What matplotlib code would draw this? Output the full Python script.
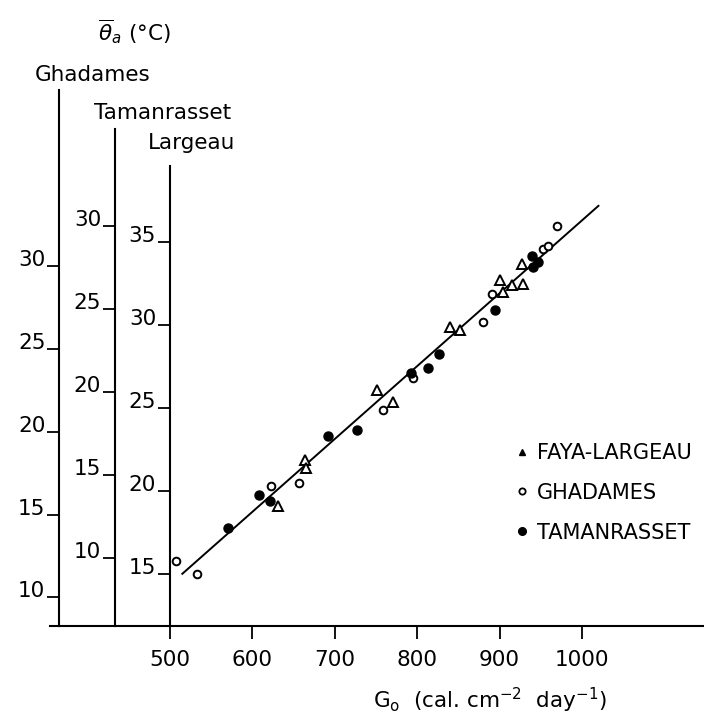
import numpy as np
import matplotlib.pyplot as plt
from matplotlib.lines import Line2D

# Faya-Largeau, temperatures on the Largeau scale (deg C)
faya_g = [631, 664, 665, 751, 771, 840, 852, 900, 904, 915, 928, 927]
faya_t = [19.1, 21.9, 21.4, 26.1, 25.4, 29.9, 29.7, 32.7, 32.0, 32.4, 32.5, 33.7]

# Ghadames, own scale
ghad_g = [507, 533, 623, 656, 759, 795, 880, 891, 953, 959, 970]
ghad_t = [12.2, 11.4, 16.7, 16.9, 21.3, 23.2, 26.6, 28.3, 31.0, 31.2, 32.4]

# Tamanrasset, own scale
tam_g = [570, 608, 621, 692, 727, 792, 813, 826, 895, 939, 947, 941]
tam_t = [11.8, 13.8, 13.4, 17.3, 17.7, 21.1, 21.4, 22.3, 24.9, 28.2, 27.8, 27.5]

# regression line (Largeau scale)
fit_g = [515, 1020]
fit_slope, fit_icpt = 0.0439, -7.58

# offsets of the station scales relative to the Largeau scale
ghad_shift = 3.6
tam_shift = 6.0

x_ticks = [500, 600, 700, 800, 900, 1000]
larg_ticks = [15, 20, 25, 30, 35]
ghad_ticks = [10, 15, 20, 25, 30]
tam_ticks = [10, 15, 20, 25, 30]

W, H = 704, 717
FS = 15.5

fig = plt.figure(figsize=(W / 100, H / 100), dpi=100)
rect = [50 / W, 1 - 625.7 / H, 654 / W, 585.7 / H]
xlim = (354.4, 1148.1)
ylim = (11.9, 47.19)


def scale_axis(ax, xpos, top, ticks):
    ax.set_xlim(*xlim)
    for s in ['top', 'right', 'bottom']:
        ax.spines[s].set_visible(False)
    ax.spines['left'].set_position(('data', xpos))
    ax.spines['left'].set_bounds(ax.get_ylim()[0], top)
    ax.spines['left'].set_linewidth(1.5)
    ax.set_yticks(ticks)
    ax.tick_params(axis='y', direction='out', length=8.5, width=1.3,
                   labelsize=FS, pad=1.5)
    plt.setp(ax.get_yticklabels(), va='baseline')


axg = fig.add_axes(rect)
axg.set_ylim(ylim[0] - ghad_shift, ylim[1] - ghad_shift)
axg.set_xticks([])
axg.patch.set_visible(False)
scale_axis(axg, 365.7, 44.17 - ghad_shift, ghad_ticks)

axt = fig.add_axes(rect)
axt.set_ylim(ylim[0] - tam_shift, ylim[1] - tam_shift)
axt.set_xticks([])
axt.patch.set_visible(False)
scale_axis(axt, 433.3, 41.81 - tam_shift, tam_ticks)

ax = fig.add_axes(rect)
ax.patch.set_visible(False)
ax.set_ylim(*ylim)
scale_axis(ax, 500, 39.6, larg_ticks)
ax.spines['bottom'].set_visible(True)
ax.spines['bottom'].set_linewidth(1.5)
ax.set_xticks(x_ticks)
ax.tick_params(axis='x', direction='out', length=9.5, width=1.3,
               labelsize=FS, pad=8)

# data
fg = np.array(fit_g)
ax.plot(fg, fit_slope * fg + fit_icpt, color='black', lw=1.4)
ax.plot(faya_g, faya_t, ls='none', marker='^', ms=6.5, mfc='white',
        mec='black', mew=1.4)
ax.plot(ghad_g, np.array(ghad_t) + ghad_shift, ls='none', marker='o',
        ms=5.5, mfc='white', mec='black', mew=1.4)
ax.plot(tam_g, np.array(tam_t) + tam_shift, ls='none', marker='o',
        ms=6.5, color='black')

# legend
handles = [
    Line2D([], [], ls='none', marker='^', ms=4.5, color='black'),
    Line2D([], [], ls='none', marker='o', ms=4.5, mfc='white', mec='black', mew=1.3),
    Line2D([], [], ls='none', marker='o', ms=5.5, color='black'),
]
ax.legend(handles, ['FAYA-LARGEAU', 'GHADAMES', 'TAMANRASSET'],
          loc='upper left', bbox_to_anchor=(514 / W, 1 - 443 / H),
          bbox_transform=fig.transFigure, frameon=False, fontsize=15,
          handlelength=0.8, handletextpad=0.3, labelspacing=0.95,
          borderpad=0, borderaxespad=0)

# labels
ax.set_xlabel(r'G$_{\rm o}$  (cal. cm$^{-2}$  day$^{-1}$)', fontsize=FS, va='center')
ax.xaxis.set_label_coords((490 - 50) / 654, (625.7 - 700) / 585.7)

fig.text(98 / W, 1 - 32 / H, r'$\overline{\theta}_a$ (°C)', fontsize=FS,
         va='center', ha='left')
fig.text(35 / W, 1 - 75 / H, 'Ghadames', fontsize=FS, va='center', ha='left')
fig.text(94 / W, 1 - 113 / H, 'Tamanrasset', fontsize=FS, va='center', ha='left')
fig.text(148 / W, 1 - 143 / H, 'Largeau', fontsize=FS, va='center', ha='left')

fig.savefig('out.png', dpi=100)
